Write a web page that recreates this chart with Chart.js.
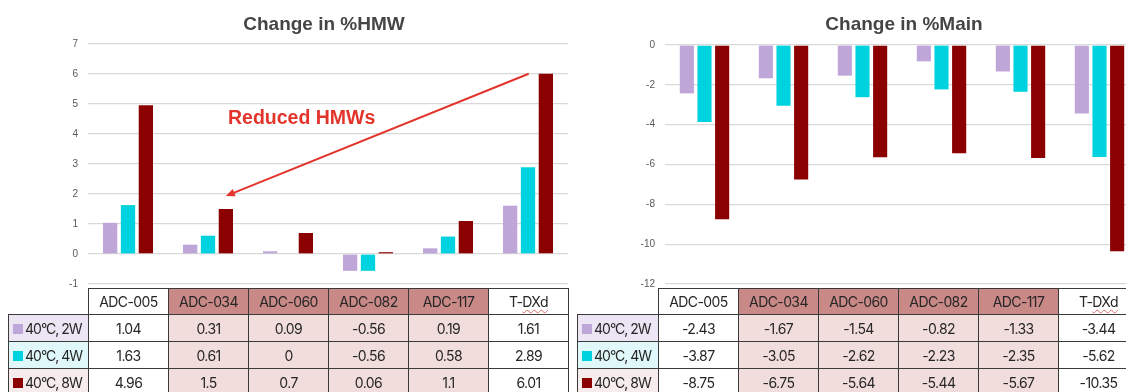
<!DOCTYPE html>
<html>
<head>
<meta charset="utf-8">
<script src="https://cdn.jsdelivr.net/npm/chart.js@4/dist/chart.umd.min.js"></script>
<style>
  html, body { margin: 0; padding: 0; background: #fff; }
  body { width: 1126px; height: 392px; overflow: hidden; position: relative; }
  .box { position: absolute; top: 0; height: 300px; }
  .title {
    position: absolute; top: 14px; width: 300px; margin-left: -150px;
    text-align: center; font: bold 19px/19px "Liberation Sans", Arial, sans-serif; color: #454545;
  }
  table.data {
    position: absolute; border-collapse: collapse; table-layout: fixed;
    font-family: Inter, "Liberation Sans", sans-serif; font-size: 14px; letter-spacing: -0.6px; color: #262626;
  }
  table.data td { border: 1.5px solid #3a3a3a; text-align: center; padding: 0; white-space: nowrap; overflow: hidden; }
  table.data tr.head td { height: 25px; }
  table.data tr.row td { height: 26px; }
  table.data td.blank { border: none; background: transparent; }
  table.data td.hl-head { background: #c98987; }
  table.data td.hl { background: #f2dddd; }
  table.data td.lab { text-align: left; padding-left: 4px; letter-spacing: -1px; }
  .sw { display: inline-block; width: 10px; height: 10px; margin-right: 2px; vertical-align: -0.5px; }
  .spell { text-decoration: underline wavy #e06a6a; text-decoration-thickness: 1px; text-underline-offset: 2px; }
</style>
</head>
<body>
<div class="box" style="left:0;width:575px"><canvas id="hmw" width="575" height="300"></canvas></div>
<div class="box" style="left:575px;width:575px"><canvas id="main" width="575" height="300"></canvas></div>
<div class="title" style="left:324px">Change in %HMW</div>
<div class="title" style="left:904px">Change in %Main</div>
<table class="data" id="hmwTable" style="left:8px;top:288px"></table>
<table class="data" id="mainTable" style="left:577px;top:288px"></table>

<script>
// Categories and series
const categories = ['ADC-005', 'ADC-034', 'ADC-060', 'ADC-082', 'ADC-117', 'T-DXd'];
const seriesNames = ['40°C, 2W', '40°C, 4W', '40°C, 8W'];
const seriesColors = ['#bea6d9', '#00d3df', '#8b0000'];
const labelFills = ['#ece5f3', '#e1f8fa', '#f7ecec'];

// Change in %HMW
const hmw2W = [1.04, 0.31, 0.09, -0.56, 0.19, 1.61];
const hmw4W = [1.63, 0.61, 0, -0.56, 0.58, 2.89];
const hmw8W = [4.96, 1.5, 0.7, 0.06, 1.1, 6.01];

// Change in %Main
const main2W = [-2.43, -1.67, -1.54, -0.82, -1.33, -3.44];
const main4W = [-3.87, -3.05, -2.62, -2.23, -2.35, -5.62];
const main8W = [-8.75, -6.75, -5.64, -5.44, -5.67, -10.35];

// Axis ranges [min, max, step]
const hmwAxis = [-1, 7, 1];
const mainAxis = [-12, 0, 2];

// Columns shaded in the data tables
const shadedColumns = ['ADC-034', 'ADC-060', 'ADC-082', 'ADC-117'];

function datasets(series) {
  return series.map((values, i) => ({
    label: seriesNames[i],
    data: values,
    backgroundColor: seriesColors[i],
    borderWidth: 0,
    categoryPercentage: 0.67,
    barPercentage: 0.8
  }));
}

function options(axis, axisWidth, padding, tickPad) {
  return {
    responsive: false,
    animation: false,
    events: [],
    layout: { padding: padding },
    plugins: { legend: { display: false }, title: { display: false }, tooltip: { enabled: false } },
    scales: {
      x: { display: false, grid: { display: false } },
      y: {
        min: axis[0], max: axis[1],
        afterFit: s => { s.width = axisWidth; },
        border: { display: false },
        grid: { color: '#d9d9d9', lineWidth: 1.3, drawTicks: false },
        ticks: {
          stepSize: axis[2], padding: tickPad, color: '#595959',
          font: { family: '"Liberation Sans", Arial, sans-serif', size: 10 }
        }
      }
    }
  };
}

// Red call-out arrow between the T-DXd and ADC-034 8W bars
const calloutPlugin = {
  id: 'callout',
  afterDatasetsDraw(chart) {
    const ctx = chart.ctx;
    const bars = chart.getDatasetMeta(2).data;
    const from = bars[5], to = bars[1];
    const x0 = from.x - from.width / 2 - 10, y0 = from.y;
    const x1 = to.x, y1 = to.y - 13;
    const ang = Math.atan2(y1 - y0, x1 - x0);
    ctx.save();
    ctx.strokeStyle = '#e3342b';
    ctx.fillStyle = '#e3342b';
    ctx.lineWidth = 2;
    ctx.beginPath();
    ctx.moveTo(x0, y0);
    ctx.lineTo(x1 - 7 * Math.cos(ang), y1 - 7 * Math.sin(ang));
    ctx.stroke();
    ctx.beginPath();
    ctx.moveTo(x1, y1);
    ctx.lineTo(x1 - 9 * Math.cos(ang) + 4 * Math.sin(ang), y1 - 9 * Math.sin(ang) - 4 * Math.cos(ang));
    ctx.lineTo(x1 - 9 * Math.cos(ang) - 4 * Math.sin(ang), y1 - 9 * Math.sin(ang) + 4 * Math.cos(ang));
    ctx.closePath();
    ctx.fill();
    // Label
    const xs = chart.scales.x, ys = chart.scales.y;
    ctx.font = 'bold 19.5px "Liberation Sans", Arial, sans-serif';
    ctx.textAlign = 'left';
    ctx.textBaseline = 'alphabetic';
    ctx.fillText('Reduced HMWs', xs.getPixelForValue(1) + 20, ys.getPixelForValue(4.35));
    ctx.restore();
  }
};

new Chart(document.getElementById('hmw'), {
  type: 'bar',
  data: { labels: categories, datasets: datasets([hmw2W, hmw4W, hmw8W]) },
  options: options(hmwAxis, 88, { top: 44, bottom: 6, right: 7, left: 0 }, 10),
  plugins: [calloutPlugin]
});

new Chart(document.getElementById('main'), {
  type: 'bar',
  data: { labels: categories, datasets: datasets([main2W, main4W, main8W]) },
  options: options(mainAxis, 90, { top: 45, bottom: 5, right: 11, left: 0 }, 10)
});

// Data tables under each chart
function headerText(name) {
  const m = name.match(/^(T-)(.+)$/);
  return m ? m[1] + '<span class="spell">' + m[2] + '</span>' : name;
}

function buildTable(id, series, labelWidth) {
  const t = document.getElementById(id);
  t.style.width = (labelWidth + 80 * categories.length) + 'px';
  let html = '<colgroup><col style="width:' + labelWidth + 'px">';
  categories.forEach(() => { html += '<col style="width:80px">'; });
  html += '</colgroup><tr class="head"><td class="blank"></td>';
  categories.forEach(c => {
    html += '<td class="' + (shadedColumns.includes(c) ? 'hl-head' : '') + '">' + headerText(c) + '</td>';
  });
  html += '</tr>';
  series.forEach((values, i) => {
    html += '<tr class="row"><td class="lab" style="background:' + labelFills[i] + '">' +
      '<span class="sw" style="background:' + seriesColors[i] + '"></span>' + seriesNames[i] + '</td>';
    values.forEach((v, j) => {
      html += '<td class="' + (shadedColumns.includes(categories[j]) ? 'hl' : '') + '">' + String(v) + '</td>';
    });
    html += '</tr>';
  });
  t.innerHTML = html;
}

buildTable('hmwTable', [hmw2W, hmw4W, hmw8W], 80);
buildTable('mainTable', [main2W, main4W, main8W], 81);
</script>
</body>
</html>
